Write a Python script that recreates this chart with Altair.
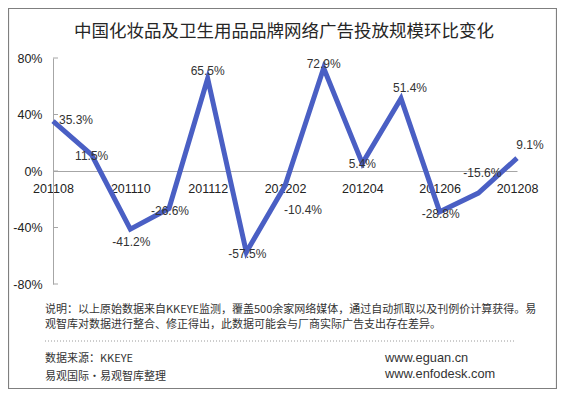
import altair as alt
import pandas as pd

# ---------------- data ----------------
months = ["201108", "201109", "201110", "201111", "201112", "201201", "201202",
          "201203", "201204", "201205", "201206", "201207", "201208"]
changes = [35.3, 11.5, -41.2, -26.6, 65.5, -57.5, -10.4, 72.9, 5.4, 51.4, -28.8, -15.6, 9.1]
x_tick_labels = ["201108", "201110", "201112", "201202", "201204", "201206", "201208"]
y_ticks = [80, 40, 0, -40, -80]

title_text = "中国化妆品及卫生用品品牌网络广告投放规模环比变化"
note_lines = [
    "说明：以上原始数据来自KKEYE监测，覆盖500余家网络媒体，通过自动抓取以及刊例价计算获得。易",
    "观智库对数据进行整合、修正得出，此数据可能会与厂商实际广告支出存在差异。",
]
source_lines = ["数据来源：KKEYE", "易观国际·易观智库整理"]
site_lines = ["www.eguan.cn", "www.enfodesk.com"]

# label nudges (style: pixel offsets of each data label from its point)
label_nudge = {
    "201108": (23, -1), "201109": (0, 1), "201110": (1, 13), "201111": (1, 2),
    "201112": (0, -7), "201201": (1, 2), "201202": (18, 24), "201203": (0, -4),
    "201204": (0, 1), "201205": (9, -10), "201206": (1, 2), "201207": (4, -20),
    "201208": (13, -13),
}

W, H = 464, 226
LATIN = "Liberation Sans"
CJK = "Noto Sans CJK SC"
GRAY = "#A6A6A6"

df = pd.DataFrame({"month": months, "change": changes})
df["label"] = [f"{v:.1f}%" for v in changes]

x_enc = alt.X(
    "month:O", sort=months,
    scale=alt.Scale(type="point", padding=0),
    axis=alt.Axis(values=x_tick_labels, title=None, orient="bottom", offset=-113,
                  domainColor=GRAY, domainWidth=1, ticks=False, labelAngle=0,
                  labelPadding=11, labelFontSize=12.5, labelFont=LATIN,
                  labelColor="#222222", grid=False),
)
y_scale = alt.Scale(domain=[-80, 80], nice=False, zero=False)
y_axis = alt.Axis(values=y_ticks, labelExpr="datum.value + '%'", title=None, grid=False,
                  ticks=False, domainColor=GRAY, domainWidth=1, labelPadding=11,
                  labelFontSize=12.5, labelFont=LATIN, labelColor="#222222")
y_enc = alt.Y("change:Q", scale=y_scale, axis=y_axis)

line = alt.Chart(df).mark_line(color="#4A5FC4", strokeWidth=5).encode(x=x_enc, y=y_enc)

ticks = alt.Chart(pd.DataFrame({"change": y_ticks})).mark_rule(color=GRAY, strokeWidth=1).encode(
    y=y_enc, x=alt.value(0), x2=alt.value(5)
)

label_layers = []
for m in months:
    dx, dy = label_nudge[m]
    label_layers.append(
        alt.Chart(df).transform_filter(alt.datum.month == m).mark_text(
            dx=dx, dy=dy, fontSize=12, font=LATIN, color="#333333",
            align="center", baseline="middle"
        ).encode(x=x_enc, y=y_enc, text="label:N")
    )


def text_layer(t, x, y, size, font, align="left", color="#333333"):
    return alt.Chart(pd.DataFrame({"t": [t]})).mark_text(
        fontSize=size, font=font, align=align, baseline="middle", color=color
    ).encode(text="t:N", x=alt.value(x), y=alt.value(y))


one = pd.DataFrame({"a": [0]})
border = alt.Chart(one).mark_rect(fill="white", fillOpacity=0, stroke="#7F7F7F", strokeWidth=1.2).encode(
    x=alt.value(-44.5), x2=alt.value(503.5), y=alt.value(-49.5), y2=alt.value(330.5)
)
dotted = alt.Chart(one).mark_rule(color="#9A9A9A", strokeDash=[1, 2], strokeWidth=1).encode(
    x=alt.value(-8), x2=alt.value(462), y=alt.value(283)
)

decor = [
    text_layer(title_text, 231, -26, 17.5, CJK, align="center", color="#262626"),
    text_layer(note_lines[0], -8, 251.5, 11, CJK),
    text_layer(note_lines[1], -8, 266.5, 11, CJK),
    text_layer(source_lines[0], -8, 301, 11, CJK),
    text_layer(source_lines[1], -8, 319, 11, CJK),
    text_layer(site_lines[0], 332, 300, 12.8, LATIN),
    text_layer(site_lines[1], 332, 316, 12.8, LATIN),
]

chart = alt.layer(border, ticks, line, *label_layers, dotted, *decor).properties(
    width=W, height=H,
    autosize=alt.AutoSizeParams(type="none"),
    padding={"left": 45, "top": 50, "right": 40, "bottom": 105},
    background="white",
).configure_view(stroke=None)

chart.save("out.html", embed_options={"renderer": "svg", "actions": False})
